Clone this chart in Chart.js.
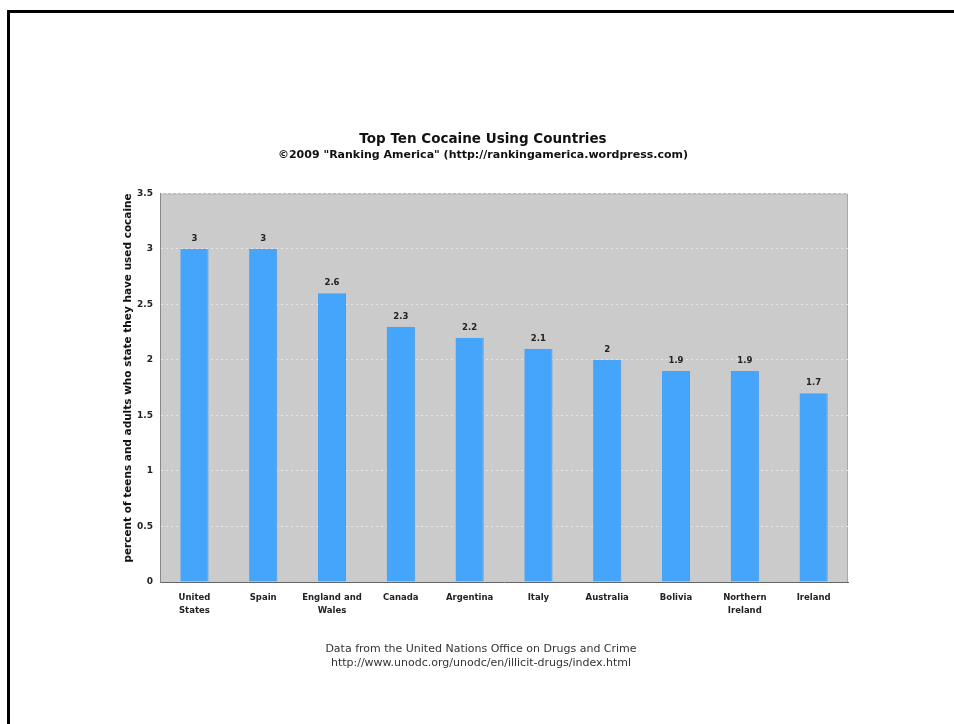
<!DOCTYPE html>
<html>
<head>
<meta charset="utf-8">
<script src="https://cdn.jsdelivr.net/npm/chart.js@4"></script>
<style>
  html, body { margin: 0; padding: 0; background: #fff; }
  body { width: 954px; height: 724px; position: relative; overflow: hidden; }
  #frame { position: absolute; left: 7px; top: 10px; width: 960px; height: 730px;
           border-top: 3px solid #000; border-left: 3px solid #000; }
  #wrap { position: absolute; left: 0; top: 0; width: 954px; height: 724px; }
  #footer { position: absolute; left: 0; width: 962px; top: 642px; text-align: center;
            font: 11px "DejaVu Sans", sans-serif; color: #333; line-height: 14px; }
</style>
</head>
<body>
<div id="frame"></div>
<div id="wrap"><canvas id="chart" width="954" height="724"></canvas></div>
<div id="footer">Data from the United Nations Office on Drugs and Crime<br>http://www.unodc.org/unodc/en/illicit-drugs/index.html</div>
<script>
// ---- data ----
const countries = [
    ['United', 'States'], 'Spain', ['England and', 'Wales'], 'Canada', 'Argentina',
    'Italy', 'Australia', 'Bolivia', ['Northern', 'Ireland'], 'Ireland'
];
const cocaineUse = [3, 3, 2.6, 2.3, 2.2, 2.1, 2, 1.9, 1.9, 1.7];
const yTicks = [0, 0.5, 1, 1.5, 2, 2.5, 3, 3.5];

const FONT = '"DejaVu Sans", Verdana, sans-serif';

// gray plot background
const plotBg = {
    id: 'plotBg',
    beforeDraw(chart) {
        const { ctx, chartArea: a } = chart;
        ctx.save();
        ctx.fillStyle = '#cbcbcb';
        ctx.fillRect(a.left, a.top, a.right - a.left, a.bottom - a.top);
        ctx.strokeStyle = '#a8a8a8';
        ctx.lineWidth = 1;
        ctx.beginPath();
        ctx.moveTo(a.left, a.top + 0.5);
        ctx.lineTo(a.right - 0.5, a.top + 0.5);
        ctx.lineTo(a.right - 0.5, a.bottom);
        ctx.stroke();
        ctx.restore();
    }
};

// value labels above bars
const valueLabels = {
    id: 'valueLabels',
    afterDatasetsDraw(chart) {
        const { ctx } = chart;
        const meta = chart.getDatasetMeta(0);
        ctx.save();
        ctx.font = 'bold 8.5px ' + FONT;
        ctx.fillStyle = '#222';
        ctx.textAlign = 'center';
        ctx.textBaseline = 'bottom';
        meta.data.forEach((bar, i) => {
            ctx.fillText(String(cocaineUse[i]), bar.x, bar.y - 6);
        });
        ctx.restore();
    }
};

new Chart(document.getElementById('chart'), {
    type: 'bar',
    data: {
        labels: countries,
        datasets: [{
            data: cocaineUse,
            backgroundColor: '#45a5fa',
            borderColor: '#3a98ee',
            borderWidth: { left: 0, right: 1, top: 0, bottom: 0 },
            categoryPercentage: 1,
            barPercentage: 0.41
        }]
    },
    options: {
        responsive: false,
        animation: false,
        layout: { padding: { left: 118, right: 106, top: 0, bottom: 106 } },
        plugins: {
            legend: { display: false },
            tooltip: { enabled: false },
            title: {
                display: true,
                text: 'Top Ten Cocaine Using Countries',
                color: '#111',
                font: { family: FONT, size: 13.5, weight: 'bold' },
                padding: { top: 131, bottom: 0 }
            },
            subtitle: {
                display: true,
                text: '©2009 "Ranking America" (http://rankingamerica.wordpress.com)',
                color: '#111',
                font: { family: FONT, size: 11, weight: 'bold' },
                padding: { top: 1, bottom: 32 }
            }
        },
        scales: {
            x: {
                grid: { display: false, drawTicks: false },
                border: { display: true, color: '#666', width: 1 },
                ticks: {
                    color: '#222',
                    font: { family: FONT, size: 8.5, weight: 'bold', lineHeight: 1.45 },
                    padding: 10,
                    maxRotation: 0,
                    autoSkip: false
                },
                afterFit(scale) { scale.height = 36; }
            },
            y: {
                min: 0,
                max: 3.5,
                afterBuildTicks(scale) { scale.ticks = yTicks.map(v => ({ value: v })); },
                grid: {
                    color: '#e6e6e6',
                    drawTicks: false
                },
                border: { display: true, color: '#888', width: 1, dash: [2, 3] },
                ticks: {
                    color: '#222',
                    font: { family: FONT, size: 9, weight: 'bold' },
                    padding: 7,
                    callback: v => String(v)
                },
                title: {
                    display: true,
                    align: 'end',
                    text: 'percent of teens and adults who state they have used cocaine',
                    color: '#111',
                    font: { family: FONT, size: 10.5, weight: 'bold' },
                    padding: { top: 4, bottom: 0 }
                },
                afterFit(scale) { scale.width = 42; }
            }
        }
    },
    plugins: [plotBg, valueLabels]
});
</script>
</body>
</html>
